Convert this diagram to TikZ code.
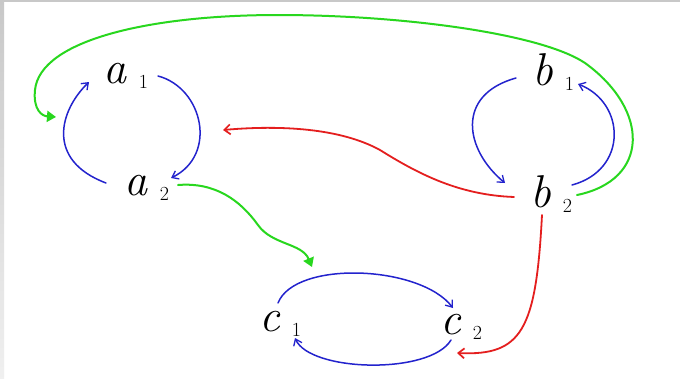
\documentclass[tikz,border=0pt]{standalone}
\usetikzlibrary{arrows.meta,calc}
\definecolor{pen blue}{RGB}{35,35,205}
\definecolor{pen green}{RGB}{40,215,30}
\definecolor{pen red}{RGB}{228,30,30}
\definecolor{frame gray}{RGB}{200,200,200}
\tikzset{
  lbl/.style={inner sep=0pt, text=black},
  blueedge/.style={draw=pen blue, line width=1.5pt, line cap=round, -{Straight Barb[length=6pt,width=9pt,line width=1.3pt]}},
  rededge/.style={draw=pen red, line width=1.8pt, line cap=round, -{Straight Barb[length=6pt,width=10pt,line width=1.7pt]}},
  greenedge/.style={draw=pen green, line width=2pt, line cap=round, -{Triangle[length=9pt,width=11pt]}},
}
\newcommand{\hlab}[2]{{\fontsize{46}{46}\selectfont\itshape #1}\hspace{12pt}\raisebox{-5pt}{\fontsize{20}{20}\selectfont #2}}
\begin{document}
\begin{tikzpicture}[x=1pt,y=-1pt]
\useasboundingbox (0,0) rectangle (680,378);
\fill[white] (0,0) rectangle (680,378);
\fill[frame gray] (0,0) rectangle (680,2);
\shade[top color=frame gray, bottom color=gray!12] (0,0) rectangle (4,378);
% nodes
\node[lbl] (a1) at (126,76) {\hlab{a}{1}};
\node[lbl] (a2) at (147,188) {\hlab{a}{2}};
\node[lbl] (b1) at (553,72) {\hlab{b}{1}};
\node[lbl] (b2) at (551,194) {\hlab{b}{2}};
\node[lbl] (c1) at (280,324) {\hlab{c}{1}};
\node[lbl] (c2) at (461,327) {\hlab{c}{2}};
\coordinate (ga) at (56,117);
\coordinate (gc) at (312,267);
\coordinate (ra) at (223,130);
\coordinate (rc) at (457,353);
% blue loops
\draw[blueedge] ($(a1)+(32,0)$) .. controls +(45,12) and +(47,-23) .. ($(a2)+(24,-10)$);
\draw[blueedge] ($(a2)+(-41,-5)$) .. controls +(-61,-23) and +(-29,28) .. ($(a1)+(-37,6)$);
\draw[blueedge] ($(b1)+(-37,6)$) .. controls +(-61,17) and +(-40,-33) .. ($(b2)+(-46,-11)$);
\draw[blueedge] ($(b2)+(21,-9)$) .. controls +(56,-15) and +(48,19) .. ($(b1)+(25,12)$);
\draw[blueedge] ($(c1)+(-2,-21)$) .. controls +(17,-43) and +(-33,-43) .. ($(c2)+(-8,-19)$);
\draw[blueedge] ($(c2)+(-10,13)$) .. controls +(-21,35) and +(15,34) .. ($(c1)+(15,14)$);
% green
\draw[greenedge] ($(b2)+(26,1)$) .. controls (650,180) and (650,110) .. (585,63)
   .. controls (540,33) and (400,15) .. (278,15)
   .. controls (150,15) and (40,40) .. (35,90)
   .. controls (33,110) and (42,116) .. (ga);
\draw[greenedge] ($(a2)+(31,-3)$) .. controls (215,182) and (240,200) .. (258,225)
   .. controls (272,245) and (302,243) .. (gc);
% red
\draw[rededge] ($(b2)+(-37,3)$) .. controls (460,195) and (420,175) .. (380,150)
   .. controls (340,128) and (280,125) .. (ra);
\draw[rededge] ($(b2)+(-9,21)$) .. controls (536,330) and (522,356) .. (rc);
\end{tikzpicture}
\end{document}
